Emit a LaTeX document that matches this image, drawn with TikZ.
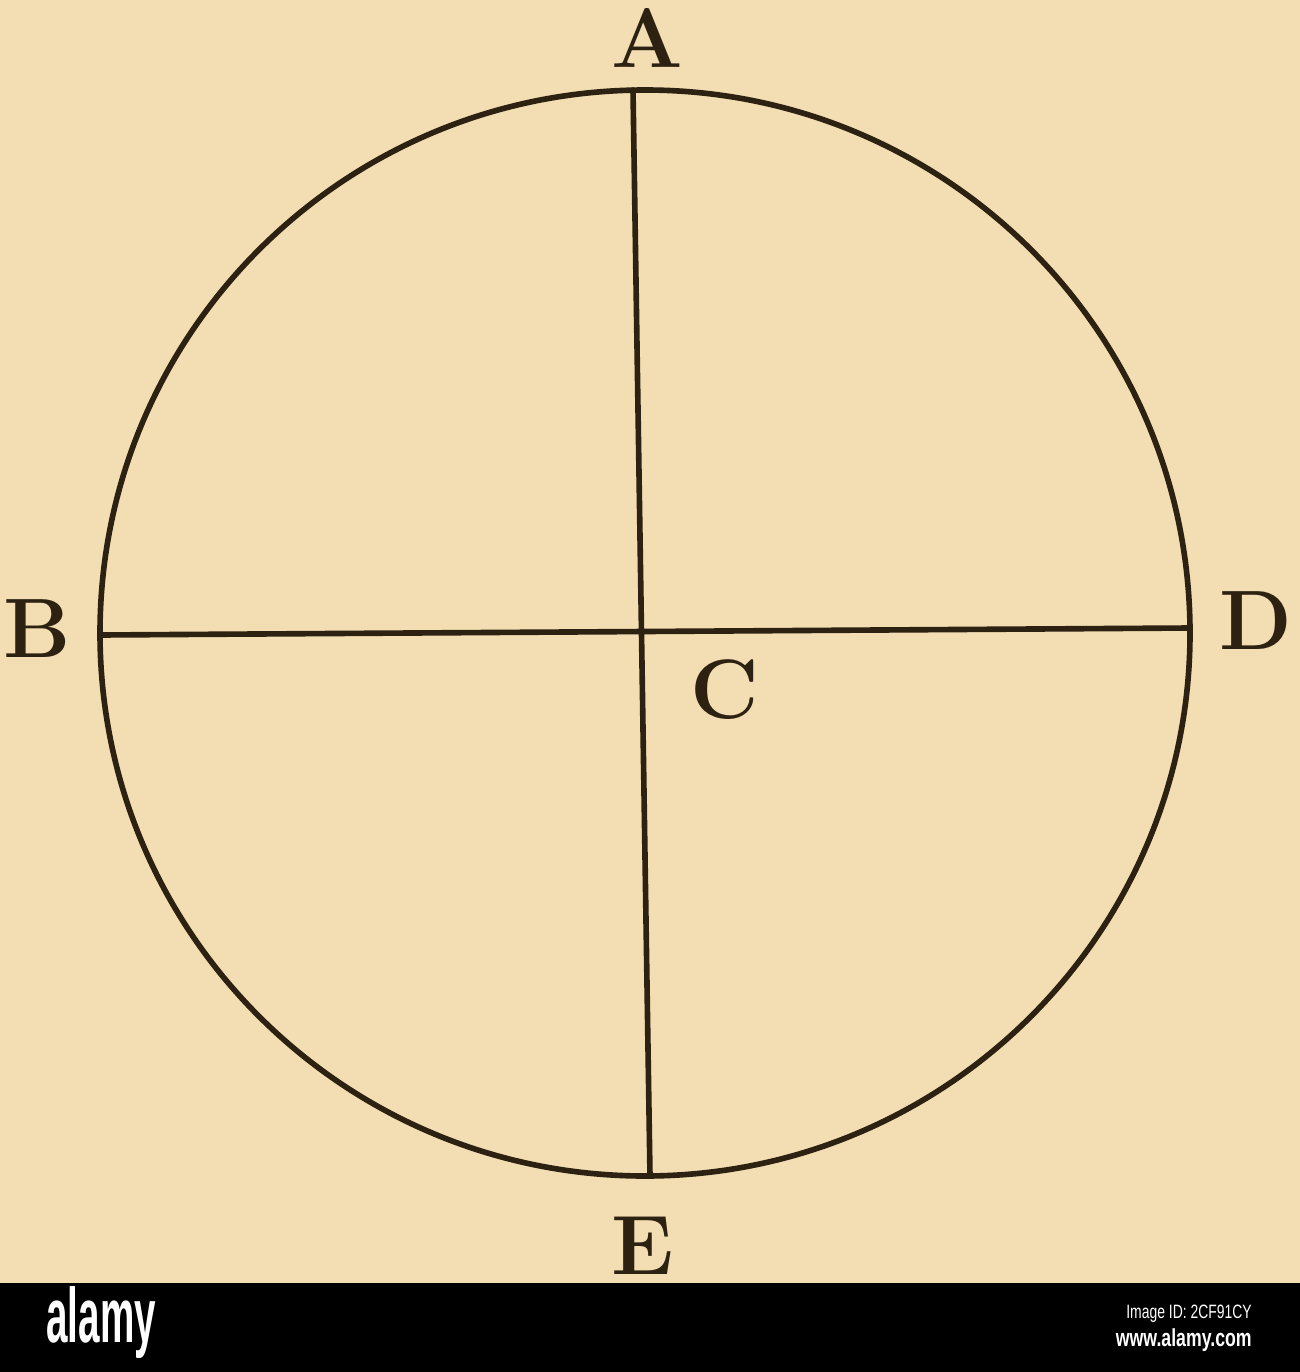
\documentclass[tikz,border=0pt]{standalone}
\usepackage{fontspec}
\newfontfamily\logofont{Liberation Sans}
\definecolor{paper}{RGB}{242,222,178}
\definecolor{ink}{RGB}{45,33,18}
\tikzset{
  figline/.style={draw=ink, line width=3.2pt, line cap=round},
  letter/.style={text=ink, inner sep=0pt, font=\fontsize{48}{50}\selectfont\bfseries},
  barwhite/.style={text=white, inner sep=0pt, font=\logofont}
}
\begin{document}
\begin{tikzpicture}[x=0.02cm, y=-0.02cm]
  \useasboundingbox (0,0) rectangle (1300,1372);
  \fill[paper] (0,0) rectangle (1300,1283);
  \fill[black] (0,1283) rectangle (1300,1372);
  % circle and diameters
  \coordinate (ctr) at (645,633);
  \draw[figline] (ctr) ellipse [x radius=545, y radius=543];
  \coordinate (a) at (633,90);
  \coordinate (e) at (650,1176);
  \coordinate (b) at (100,635);
  \coordinate (d) at (1190,628);
  \draw[figline] (a) -- (e);
  \draw[figline] (b) -- (d);
  % labels
  \node[letter] (la) at (647,38) {A};
  \node[letter] (lb) at (37,629) {B};
  \node[letter] (ld) at (1256,621) {D};
  \node[letter] (lc) at (725,690) {C};
  \node[letter] (le) at (643,1246) {E};
  % bottom bar
  \node[barwhite, anchor=west] (logo) at (46,1322) {\scalebox{0.5}[1]{\fontsize{44}{46}\selectfont\bfseries alamy}};
  \node[barwhite, anchor=east] (imgid) at (1252,1314) {\scalebox{0.72}[1]{\fontsize{11}{12}\selectfont Image ID: 2CF91CY}};
  \node[barwhite, anchor=east] (www) at (1252,1340) {\scalebox{0.72}[1]{\fontsize{14}{15}\selectfont\bfseries www.alamy.com}};
\end{tikzpicture}
\end{document}
